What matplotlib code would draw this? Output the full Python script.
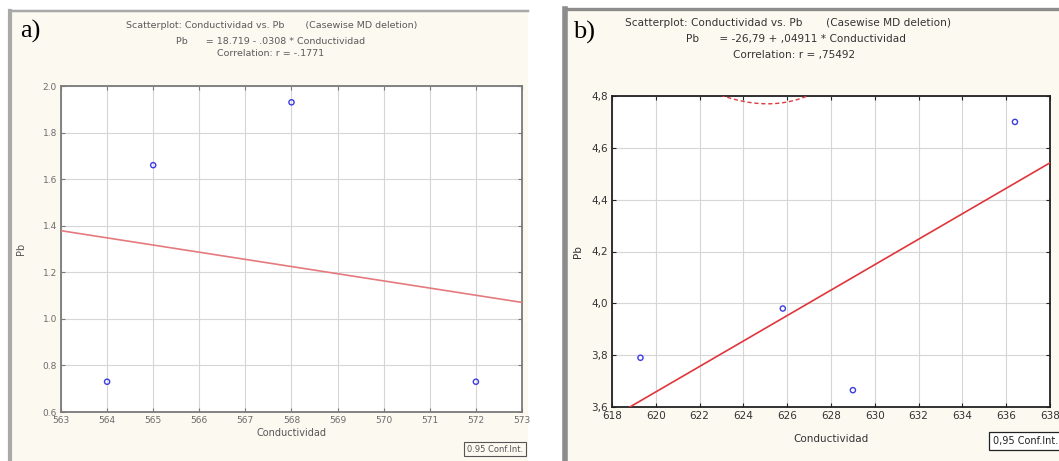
import numpy as np
import matplotlib
matplotlib.use("Agg")
import matplotlib.pyplot as plt
from matplotlib.patches import Rectangle

# panel a data
cond_a = [564, 565, 568, 572]
pb_a = [0.73, 1.66, 1.93, 0.73]
b0_a, b1_a = 18.719, -0.0308
xticks_a = list(range(563, 574))
yticks_a = [0.6, 0.8, 1.0, 1.2, 1.4, 1.6, 1.8, 2.0]

# panel b data
cond_b = [619.3, 625.8, 629.0, 636.4]
pb_b = [3.79, 3.98, 3.665, 4.70]
b0_b, b1_b = -26.79, 0.04911
xticks_b = list(range(618, 640, 2))
yticks_b = [3.6, 3.8, 4.0, 4.2, 4.4, 4.6, 4.8]

W, H = 1059, 461
fig = plt.figure(figsize=(W / 100, H / 100), dpi=100)
fig.patch.set_facecolor("white")


def box(x0, y0, x1, y1):
    return [x0 / W, 1 - y1 / H, (x1 - x0) / W, (y1 - y0) / H]


def frac(x, y):
    return x / W, 1 - y / H


def panel_bg(x0, y0, x1, y1, edge, lw):
    r = Rectangle((x0 / W, 1 - y1 / H), (x1 - x0) / W, (y1 - y0) / H,
                  transform=fig.transFigure, facecolor="#fcf9f1",
                  edgecolor="none", zorder=-5)
    fig.add_artist(r)
    # left and top borders
    fig.add_artist(plt.Line2D([x0 / W, x0 / W], [1 - y0 / H, 0],
                              color=edge, lw=lw, transform=fig.transFigure, zorder=-4))
    fig.add_artist(plt.Line2D([x0 / W, x1 / W], [1 - y0 / H, 1 - y0 / H],
                              color=edge, lw=lw * 0.6, transform=fig.transFigure, zorder=-4))


def conf_band(ax, xs, ys, b0, b1, xlim):
    xs = np.asarray(xs)
    ys = np.asarray(ys)
    n = len(xs)
    res = ys - (b0 + b1 * xs)
    s = np.sqrt(np.sum(res ** 2) / (n - 2))
    sxx = np.sum((xs - xs.mean()) ** 2)
    t = 4.303  # t(0.975, df=2)
    xx = np.linspace(xlim[0], xlim[1], 300)
    fit = b0 + b1 * xx
    half = t * s * np.sqrt(1 / n + (xx - xs.mean()) ** 2 / sxx)
    for band in (fit + half, fit - half):
        ax.plot(xx, band, color="#e03a3e", lw=1.0, ls=(0, (3, 2)), zorder=3)


def draw_panel(ax, xs, ys, b0, b1, xticks, yticks, fmt, txtc, linec, spinec):
    ax.set_facecolor("white")
    ax.set_xticks(xticks)
    ax.set_yticks(yticks)
    ax.set_xticklabels([str(v) for v in xticks])
    ax.set_yticklabels([fmt(v) for v in yticks])
    ax.grid(True, color="#d6d6d6", lw=0.8)
    ax.set_axisbelow(True)
    ax.tick_params(direction="in", length=3, colors=spinec, labelcolor=txtc,
                   labelsize=7, right=True, top=True, pad=3)
    for sp in ax.spines.values():
        sp.set_color(spinec)
        sp.set_linewidth(1.3)
    xx = np.array(xticks[:1] + xticks[-1:], dtype=float)
    ax.plot(xx, b0 + b1 * xx, color=linec, lw=1.2, zorder=3)
    conf_band(ax, xs, ys, b0, b1, (xticks[0], xticks[-1]))
    ax.scatter(xs, ys, s=14, facecolors="none", edgecolors="#3c3ce0",
               linewidths=1.0, zorder=4)
    ax.set_xlim(xticks[0], xticks[-1])
    ax.set_ylim(yticks[0], yticks[-1])


# ---- panel a ----
panel_bg(10, 11, 528, 461, "#a9a9a9", 3)
ax_a = fig.add_axes(box(61, 86, 522, 412))
draw_panel(ax_a, cond_a, pb_a, b0_a, b1_a, xticks_a, yticks_a,
           lambda v: f"{v:.1f}", "#6b6b6b", "#e57a7e", "#7a7a7a")
ax_a.tick_params(labelsize=6.5)
ax_a.set_xlabel("Conductividad", fontsize=7, color="#555555", labelpad=2)
ax_a.set_ylabel("Pb", fontsize=7, color="#555555", labelpad=12)

tc = "#5a5a5a"
fig.text(*frac(272, 26), "Scatterplot: Conductividad vs. Pb       (Casewise MD deletion)",
         ha="center", va="center", fontsize=6.8, color=tc)
fig.text(*frac(271, 41), "Pb      = 18.719 - .0308 * Conductividad",
         ha="center", va="center", fontsize=6.8, color=tc)
fig.text(*frac(271, 54), "Correlation: r = -.1771",
         ha="center", va="center", fontsize=6.8, color=tc)
fig.text(*frac(20, 31), "a)", fontsize=19, family="Liberation Serif",
         ha="left", va="center", color="black")
fig.text(*frac(495, 449), "0.95 Conf.Int.", fontsize=6, color="#555555",
         ha="center", va="center",
         bbox=dict(boxstyle="square,pad=0.35", fc="#fcf9f1", ec="#555555", lw=0.8))

# ---- panel b ----
panel_bg(565, 9, 1059, 461, "#8c8c8c", 4)
ax_b = fig.add_axes(box(612, 96, 1050, 407))
draw_panel(ax_b, cond_b, pb_b, b0_b, b1_b, xticks_b, yticks_b,
           lambda v: f"{v:.1f}".replace(".", ","), "#333333", "#e0353a", "#222222")
ax_b.tick_params(labelsize=7.5)
ax_b.set_xlabel("Conductividad", fontsize=7.5, color="#333333", labelpad=9)
ax_b.set_ylabel("Pb", fontsize=7.5, color="#333333", labelpad=6)

tc = "#333333"
fig.text(*frac(788, 23), "Scatterplot: Conductividad vs. Pb       (Casewise MD deletion)",
         ha="center", va="center", fontsize=7.6, color=tc)
fig.text(*frac(796, 39), "Pb      = -26,79 + ,04911 * Conductividad",
         ha="center", va="center", fontsize=7.6, color=tc)
fig.text(*frac(794, 55), "Correlation: r = ,75492",
         ha="center", va="center", fontsize=7.6, color=tc)
fig.text(*frac(573, 32), "b)", fontsize=19, family="Liberation Serif",
         ha="left", va="center", color="black")
fig.text(*frac(1026, 441), "0,95 Conf.Int.", fontsize=7, color="#222222",
         ha="center", va="center",
         bbox=dict(boxstyle="square,pad=0.45", fc="white", ec="#222222", lw=0.9))

fig.savefig("out.png", dpi=100)
